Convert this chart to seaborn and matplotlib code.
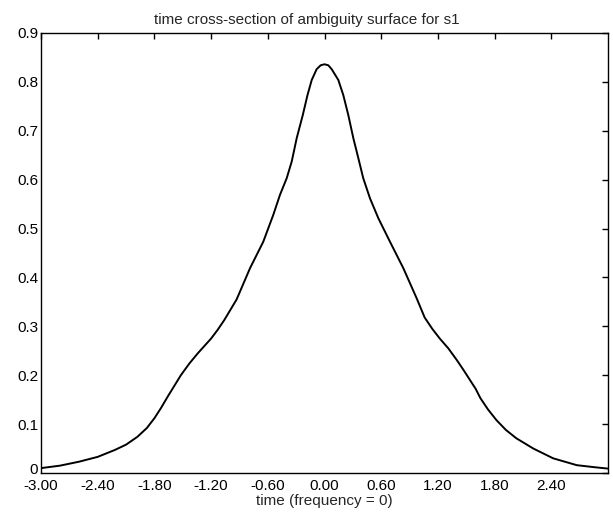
import matplotlib
matplotlib.use("Agg")
import matplotlib.pyplot as plt
import matplotlib.transforms as mtransforms
import seaborn as sns
import pandas as pd

time = [-3.0, -2.8, -2.6, -2.4, -2.22, -2.1, -1.98, -1.88, -1.80, -1.73, -1.66,
        -1.59, -1.52, -1.43, -1.34, -1.27, -1.20, -1.13, -1.06, -0.93, -0.788,
        -0.648, -0.542, -0.471, -0.40, -0.347, -0.294, -0.23, -0.18, -0.135,
        -0.083, -0.04, 0.0, 0.04, 0.076, 0.146, 0.199, 0.252, 0.305, 0.358, 0.41,
        0.481, 0.57, 0.693, 0.834, 0.976, 1.06, 1.14, 1.22, 1.31, 1.40, 1.47, 1.54,
        1.60, 1.65, 1.73, 1.82, 1.92, 2.03, 2.21, 2.42, 2.67, 2.85, 3.0]
ambiguity = [0.010, 0.015, 0.023, 0.033, 0.047, 0.058, 0.074, 0.092, 0.112, 0.133,
             0.156, 0.178, 0.200, 0.224, 0.245, 0.260, 0.275, 0.293, 0.313, 0.355,
             0.419, 0.473, 0.528, 0.569, 0.603, 0.637, 0.685, 0.732, 0.773, 0.804,
             0.826, 0.834, 0.836, 0.834, 0.826, 0.804, 0.773, 0.732, 0.685, 0.644,
             0.603, 0.562, 0.521, 0.473, 0.419, 0.357, 0.318, 0.295, 0.275, 0.255,
             0.231, 0.211, 0.190, 0.172, 0.153, 0.130, 0.108, 0.088, 0.071, 0.050,
             0.030, 0.016, 0.012, 0.009]
xticks = [-3.0, -2.4, -1.8, -1.2, -0.6, 0.0, 0.6, 1.2, 1.8, 2.4]
xticklabels = ["-3.00", "-2.40", "-1.80", "-1.20", "-0.60", "0.00", "0.60", "1.20", "1.80", "2.40"]
yticks = [0, 0.1, 0.2, 0.3, 0.4, 0.5, 0.6, 0.7, 0.8, 0.9]
yticklabels = ["0", "0.1", "0.2", "0.3", "0.4", "0.5", "0.6", "0.7", "0.8", "0.9"]

sns.set_style("white")
plt.rcParams["font.family"] = ["Liberation Sans", "DejaVu Sans"]

df = pd.DataFrame({"time": time, "amb": ambiguity})

fig = plt.figure(figsize=(6.13, 5.16), dpi=100)
ax = fig.add_axes([41/613, 1 - 473/516, (608-41)/613, (473-33)/516])
sns.lineplot(data=df, x="time", y="amb", ax=ax, color="black", linewidth=1.4,
             sort=False, estimator=None)

ax.set_xlim(-3.0, 3.0)
ax.set_ylim(0, 0.9)
ax.set_xticks(xticks)
ax.set_xticklabels(xticklabels)
ax.set_yticks(yticks)
ax.set_yticklabels(yticklabels)
ax.tick_params(direction="in", length=4, width=1, top=True, right=True,
               labelsize=11, colors="black")
ax.tick_params(axis="x", pad=4)
ax.tick_params(axis="y", pad=2)
for s in ax.spines.values():
    s.set_color("black")
    s.set_linewidth(1.0)

# nudge the "0" label slightly up so it does not collide with "-3.00"
zero_lbl = ax.get_yticklabels()[0]
zero_lbl.set_transform(zero_lbl.get_transform() +
                       mtransforms.ScaledTranslation(0, 3/72, fig.dpi_scale_trans))

ax.set_xlabel("time (frequency = 0)", fontsize=11, labelpad=1)
ax.set_ylabel("")
fig.text(307/613, 1 - 20/516, "time cross-section of ambiguity surface for s1",
         ha="center", va="center", fontsize=11)

fig.savefig("out.png", dpi=100)
